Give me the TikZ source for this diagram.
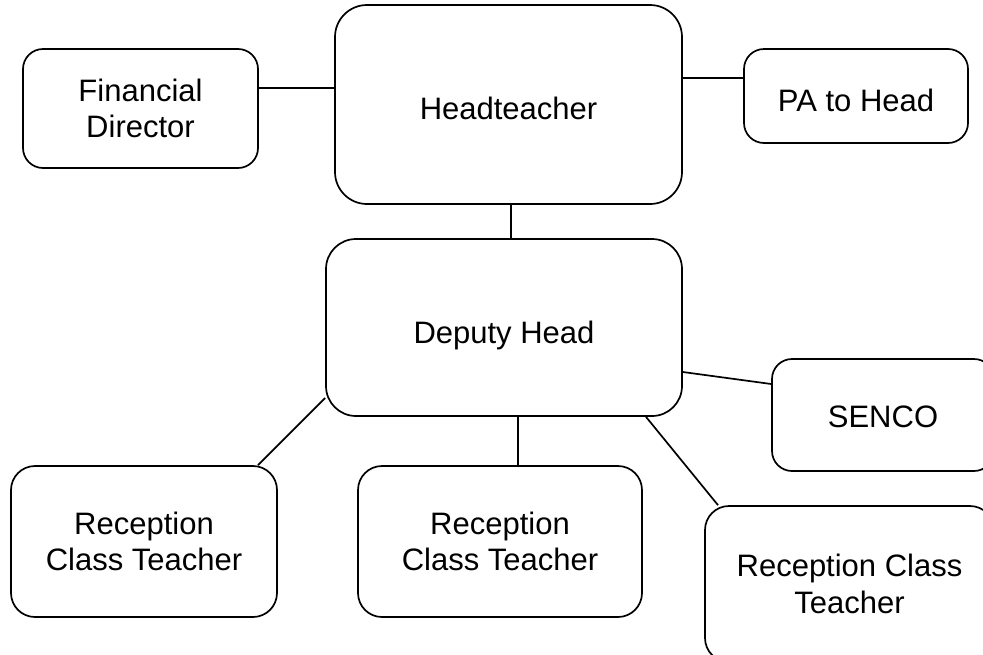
\documentclass[tikz,border=0pt]{standalone}
\usepackage{fontspec}
\setmainfont{Liberation Sans}
\begin{document}
\begin{tikzpicture}[x=1pt,y=-1pt,
  box/.style={draw=black, line width=1.7pt, rounded corners=#1, align=center, inner sep=0pt,
    font=\fontsize{31}{36.5}\selectfont},
  box/.default=20pt,
  link/.style={line width=1.7pt}]
\useasboundingbox (0,0) rectangle (983,654);
\clip (0,0) rectangle (983,654);
\node[box=32pt, minimum width=347pt, minimum height=199pt, text height=29pt, text depth=0pt] (head) at (508.5,104.5) {Headteacher};
\node[box, minimum width=235pt, minimum height=119pt] (fin) at (140.5,108.5) {Financial\\Director};
\node[box, minimum width=224pt, minimum height=94pt, text height=30pt, text depth=0pt] (pa) at (856,96) {PA to Head};
\node[box=30pt, minimum width=356pt, minimum height=177pt, text height=31pt, text depth=0pt] (dep) at (504,327.5) {Deputy Head};
\node[box, minimum width=222pt, minimum height=112pt, text height=24pt, text depth=0pt] (senco) at (883,415) {SENCO};
\node[box=24pt, minimum width=266pt, minimum height=151pt] (r1) at (144,541.5) {Reception\\Class Teacher};
\node[box=24pt, minimum width=284pt, minimum height=151pt] (r2) at (500,541.5) {Reception\\Class Teacher};
\node[box=24pt, minimum width=289pt, minimum height=156pt] (r3) at (849.5,584) {Reception Class\\Teacher};
\draw[link] (fin.east |- 0,88) -- (head.west |- 0,88);
\draw[link] (head.east |- 0,78) -- (pa.west |- 0,78);
\draw[link] (head.south -| 511,0) -- (dep.north -| 511,0);
\draw[link] (dep.east |- 0,372) -- (senco.west |- 0,384);
\draw[link] (dep.west |- 0,398) -- (r1.north -| 258,0);
\draw[link] (dep.south -| 518,0) -- (r2.north -| 518,0);
\draw[link] (dep.south -| 646,0) -- (r3.north -| 718,0);
\end{tikzpicture}
\end{document}
